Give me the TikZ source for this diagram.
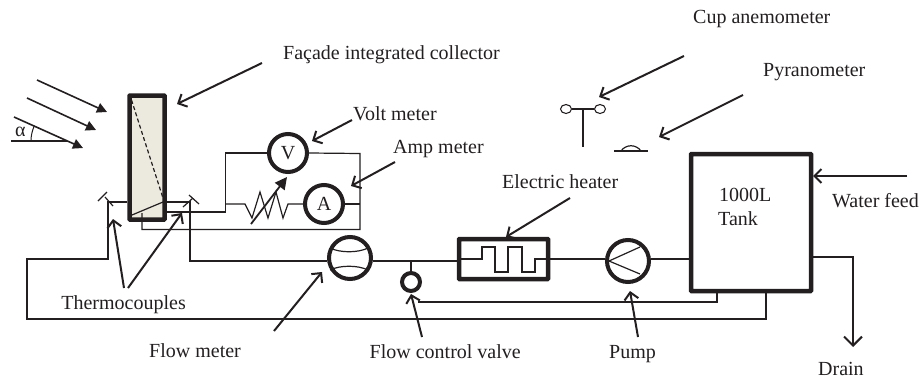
\documentclass[tikz,border=0pt]{standalone}
\usepackage{fontspec}
\setmainfont{Liberation Serif}
\usetikzlibrary{arrows.meta,shapes.geometric}
\definecolor{ink}{HTML}{231F20}
\definecolor{panel}{HTML}{ECE9DF}
\tikzset{
  wire/.style={draw=ink,line width=1.2pt},
  pointer/.style={draw=ink,line width=2pt,-{Straight Barb[length=7pt,width=14pt,line width=2pt]}},
  ray/.style={draw=ink,line width=1.6pt,-{Triangle[length=10pt,width=10pt]}},
  heavy/.style={draw=ink,line width=4.5pt,rounded corners=0.6pt},
  meter/.style={circle,draw=ink,line width=4pt,fill=white,inner sep=0pt,minimum size=#1},
  lbl/.style={text=ink,font=\fontsize{20}{24}\selectfont,inner sep=0pt,anchor=base west},
}
\begin{document}
\begin{tikzpicture}[x=1pt,y=-1pt]
\useasboundingbox (0,0) rectangle (922,381);
% main components
\node[heavy,fill=panel,minimum width=35pt,minimum height=124pt,inner sep=0pt] (collector) at (147,157.5) {};
\node[heavy,minimum width=120pt,minimum height=137pt,inner sep=0pt] (tank) at (751,222.5) {};
\node[heavy,minimum width=89pt,minimum height=40pt,inner sep=0pt] (heater) at (503.5,259) {};
\node[meter=38pt,font=\fontsize{20}{24}\selectfont,text=ink] (volt) at (288,153) {V};
\node[meter=38pt,font=\fontsize{20}{24}\selectfont,text=ink] (amp) at (324,204) {A};
\node[meter=42pt] (flow) at (350,258) {};
\node[meter=42pt] (pump) at (628,261) {};
\node[circle,draw=ink,line width=4pt,fill=white,inner sep=0pt,minimum size=18pt] (valve) at (411,282) {};
% collector interior
\coordinate (colA) at (131.5,100);
\coordinate (colB) at (163,198);
\coordinate (colC) at (132,215);
\coordinate (colD) at (163,202);
\draw[wire,dash pattern=on 4pt off 2.5pt] (colA) -- (colB);
\draw[wire] (colC) -- (colD);
% junctions
\coordinate (tcL) at (108,202);
\coordinate (tcR) at (190,202);
\coordinate (tlow) at (27,259);
\coordinate (tbot) at (27,319);
\coordinate (busX) at (225.5,204);
% thermocouples
\draw[wire] (98,201) -- (107,192);
\draw[wire] (105,197) -- (113,206);
\draw[wire] (189,195) -- (199,204);
\draw[wire] (183,207) -- (193,198);
% water loop
\draw[wire] (collector.west |- tcL) -- (tcL) -- (108,259) -- (tlow) -- (tbot) -- (766,319) -- (766,293);
\draw[wire] (collector.east |- tcR) -- (tcR) -- (190,261) -- (flow.west |- 0,261);
\draw[wire] (flow.east |- 0,261) -- (heater.west |- 0,261);
\draw[wire] (411,261) -- (valve.north);
\draw[wire] (heater.east |- 0,259) -- (pump.west |- 0,259);
\draw[wire] (pump.east |- 0,259) -- (tank.west |- 0,259);
\draw[wire] (418,302) -- (717,302) -- (717,293);
% electric circuit
\draw[wire] (collector.east |- 0,212) -- (225.5,212) -- (225.5,153) -- (volt.west);
\draw[wire] (volt.east) -- (360,153.5) -- (360,229.5) -- (142,229.5) -- (142,213);
\draw[wire] (amp.east) -- (360,204);
\draw[wire] (busX) -- (245,204) -- (252,218) -- (260,192) -- (268,218) -- (276,192) -- (283,218) -- (288,204) -- (amp.west);
\draw[draw=ink,line width=1.8pt,-{Triangle[length=12pt,width=12pt]}] (251,224) -- (287,177);
% heater element
\draw[wire] (461,259) -- (482,259) -- (482,247) -- (495,247) -- (495,272) -- (508,272) -- (508,247) -- (522,247) -- (522,272) -- (535,272) -- (535,259) -- (546,259);
% pump and flow meter interior
\draw[wire] (609,261) -- (640,247);
\draw[wire] (609,261) -- (640,274);
\draw[wire] (330,248) .. controls (340,253) and (358,253) .. (368,248);
\draw[wire] (330,270) .. controls (340,265) and (358,265) .. (368,270);
% anemometer
\node[ellipse,draw=ink,line width=1.1pt,inner sep=0pt,minimum width=11pt,minimum height=9pt] (cupL) at (566,109) {};
\node[ellipse,draw=ink,line width=1.1pt,inner sep=0pt,minimum width=11pt,minimum height=9pt] (cupR) at (600,109) {};
\draw[wire] (cupL) -- (cupR);
\coordinate (cupMid) at (583,109);
\coordinate (cupFoot) at (583,147);
\draw[wire] (cupMid) -- (cupFoot);
% pyranometer
\coordinate (pyrL) at (614,151);
\coordinate (pyrR) at (648,151);
\draw[wire] (pyrL) -- (pyrR);
\draw[wire] (621,151) .. controls (626,144) and (636,144) .. (641,151);
% sun
\draw[ray] (37,80) -- (107,112);
\draw[ray] (27,98) -- (96,130);
\draw[ray] (14,117) -- (83,148);
\draw[draw=ink,line width=1.4pt] (11,141) -- (67,141);
\draw[draw=ink,line width=1pt] (31,141) arc[start angle=180,end angle=205,radius=36];
% labels
\node[lbl] (lcol) at (283,59) {Façade integrated collector};
\node[lbl] (lvolt) at (353,120) {Volt meter};
\node[lbl] (lamp) at (393,153) {Amp meter};
\node[lbl] (lheat) at (502,188) {Electric heater};
\node[lbl] (lcup) at (693,23) {Cup anemometer};
\node[lbl] (lpyr) at (763,76) {Pyranometer};
\node[lbl] (lfeed) at (832,207) {Water feed};
\node[lbl] (ldrain) at (818,375) {Drain};
\node[lbl,anchor=base east] (lthermo) at (186,309) {Thermocouples};
\node[lbl] (lflow) at (149,357) {Flow meter};
\node[lbl,anchor=base east] (lvalve) at (521,358) {Flow control valve};
\node[lbl] (lpump) at (609,358) {Pump};
\node[lbl] (ltank) at (719,201) {1000L};
\node[lbl] (ltank2) at (718,225) {Tank};
\node[lbl] (lalpha) at (15,136) {α};
% pointers
\draw[pointer] (262,63) -- (177,104);
\draw[pointer] (352,120) -- (312,141);
\draw[pointer] (395,162) -- (351,186);
\draw[pointer] (570,198) -- (506,237);
\draw[pointer] (684,56) -- (599,97);
\draw[pointer] (743,95) -- (659,137);
\draw[pointer] (907,176) -- (813,176);
\draw[pointer] (638,337) -- (630,291);
\draw[pointer] (274,331) -- (322,272);
\draw[pointer] (422,337) -- (411,294);
\draw[pointer] (124,288) -- (113,219);
\draw[pointer] (128,288) -- (182,213);
\draw[wire,-{Straight Barb[length=9pt,width=18pt,line width=2pt]}] (813,257) -- (853,257) -- (853,347);
\end{tikzpicture}
\end{document}
